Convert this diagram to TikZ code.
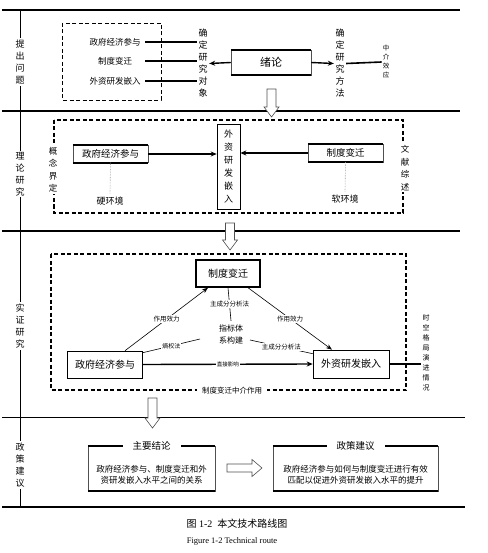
\documentclass[tikz,border=0pt]{standalone}
\usepackage{fontspec}
\setmainfont{Liberation Serif}
\newfontfamily\cjk{Noto Sans CJK SC}
\usetikzlibrary{arrows.meta, positioning, calc}
\definecolor{edgeGray}{HTML}{505050}
\definecolor{dotGray}{HTML}{8C8C8C}
\tikzset{
  vlabel/.style={font=\cjk\fontsize{9}{12}\selectfont, align=center, fill=white, inner sep=1.5pt},
  vsmall/.style={font=\cjk\fontsize{6.5}{9}\selectfont, align=center, inner sep=1pt},
  item/.style={font=\cjk\fontsize{8.5}{10}\selectfont, minimum width=60pt, inner sep=1pt},
  tbbox/.style={draw=edgeGray, line width=0.5pt, fill=white,
    append after command={
      (\tikzlastnode.north west) edge[line width=1.6pt, draw=black] (\tikzlastnode.north east)
      (\tikzlastnode.south west) edge[line width=1.6pt, draw=black] (\tikzlastnode.south east)}},
  plainbox/.style={draw=black, line width=0.6pt, fill=white},
  heavybox/.style={draw=black, line width=1.4pt, fill=white},
  tag/.style={font=\cjk\fontsize{6.5}{8}\selectfont, fill=white, inner sep=1pt},
  dashbox/.style={dash pattern=on 4pt off 2.5pt, line width=1.1pt},
  dotline/.style={dotGray, densely dotted, line width=0.6pt},
  bar/.style={line width=1.6pt},
  arrow/.style={-{Stealth[length=6pt, width=5pt]}, line width=1.4pt},
  thinarrow/.style={-{Stealth[length=6pt, width=4.5pt]}, line width=0.6pt},
  hollow/.style={draw=edgeGray, line width=0.6pt, fill=white},
}
\begin{document}
\begin{tikzpicture}[x=1pt, y=-1pt]
\useasboundingbox (0,0) rectangle (487,553);
% stage rules
\foreach \y/\w/\r in {10/1.8/460, 111/1.8/460, 231/1.8/460, 417/0.9/465, 507/1.4/465}
  \draw[line width=\w pt] (2,\y) -- (\r,\y);
\draw[line width=0.6pt] (20,10) -- (20,507);
\node (st1) [vlabel] at (20,62) {提\\出\\问\\题};
\node (st2) [vlabel] at (20,174) {理\\论\\研\\究};
\node (st3) [vlabel] at (20,326) {实\\证\\研\\究};
\node (st4) [vlabel] at (20,465) {政\\策\\建\\议};

% raising the problem
\draw[dashbox, line width=0.8pt] (62,23) rectangle (161,100);
\node (s1) [item] at (115,42) {政府经济参与};
\node (s2) [item] at (115,61) {制度变迁};
\node (s3) [item] at (115,81) {外资研发嵌入};
\node (obj) [vlabel] at (203,63.5) {确\\定\\研\\究\\对\\象};
\node (intro) [tbbox, minimum width=80pt, minimum height=25pt,
  font=\cjk\fontsize{11}{13}\selectfont] at (271,62.5) {绪论};
\node (meth) [vlabel] at (340,63.5) {确\\定\\研\\究\\方\\法};
\node (med) [vsmall] at (386,62) {中\\介\\效\\应};
\foreach \s in {s1,s2,s3}
  \draw[bar] (\s.east) -- (\s.east -| obj.west);
\draw[arrow] (intro.west) -- (obj.east);
\draw[arrow] (intro.east) -- (meth.west);
\draw[bar] (meth.east) -- (med.west);

% theory
\draw[dashbox] (54,120) rectangle (403,213);
\node (def) [vlabel, font=\cjk\fontsize{8.5}{12.5}\selectfont] at (53,170) {概\\念\\界\\定};
\node (lit) [vlabel, font=\cjk\fontsize{8.5}{12.5}\selectfont] at (405,168) {文\\献\\综\\述};
\node (gov2) [tbbox, minimum width=75pt, minimum height=17pt,
  font=\cjk\fontsize{9.5}{11}\selectfont] at (110.5,154) {政府经济参与};
\node (fdi2) [plainbox, minimum width=23pt, minimum height=85pt, align=center,
  font=\cjk\fontsize{9}{13}\selectfont] at (228.5,166.5) {外\\资\\研\\发\\嵌\\入};
\node (inst2) [tbbox, minimum width=75pt, minimum height=18pt,
  font=\cjk\fontsize{9.5}{11}\selectfont] at (345.5,153) {制度变迁};
\node (hard) [font=\cjk\fontsize{9}{11}\selectfont] at (110,201) {硬环境};
\node (soft) [font=\cjk\fontsize{9}{11}\selectfont] at (345,199) {软环境};
\draw[arrow] (gov2.east) -- (gov2.east -| fdi2.west);
\draw[arrow] (inst2.west) -- (inst2.west -| fdi2.east);
\draw[dotline] (gov2.south) -- (hard.north);
\draw[dotline] (inst2.south) -- (soft.north);

% empirical
\draw[dashbox] (51,254) rectangle (406,390);
\node (chain) [font=\cjk\fontsize{7.5}{9}\selectfont, fill=white, inner xsep=5pt]
  at (232,391) {制度变迁中介作用};
\node (inst3) [heavybox, minimum width=64pt, minimum height=27pt,
  font=\cjk\fontsize{10}{12}\selectfont] at (228,273.5) {制度变迁};
\node (gov3) [plainbox, minimum width=75pt, minimum height=27pt,
  font=\cjk\fontsize{10}{12}\selectfont] at (105,364.5) {政府经济参与};
\node (fdi3) [plainbox, minimum width=76pt, minimum height=28pt,
  font=\cjk\fontsize{10}{12}\selectfont] at (351,364) {外资研发嵌入};
\node (idx) [font=\cjk\fontsize{8}{12}\selectfont, align=center] at (231,334) {指标体\\系构建};
\node (tsp) [vsmall, font=\cjk\fontsize{7}{10}\selectfont] at (426,352.5) {时\\空\\格\\局\\演\\进\\情\\况};
\coordinate (k1) at (200,339);
\coordinate (k2) at (250,340);
\draw[line width=0.6pt] (inst3.south) -- (idx.north) node[tag, midway] {主成分分析法};
\draw[thinarrow] ([xshift=20pt]gov3.north) -- ([xshift=-20pt]inst3.south)
  node[tag, midway] {作用效力};
\draw[thinarrow] ([xshift=20pt]inst3.south) -- ([xshift=-19pt]fdi3.north)
  node[tag, midway] {作用效力};
\draw[line width=0.6pt] ([yshift=-2pt]gov3.north east) -- (k1) node[tag, midway, font=\cjk\fontsize{6}{8}\selectfont] {熵权法};
\draw[line width=0.6pt] (k2) -- ([yshift=-4pt]fdi3.north west) node[tag, midway] {主成分分析法};
\draw[arrow] (gov3.east) -- (fdi3.west)
  node[tag, midway, font=\cjk\fontsize{5.5}{7}\selectfont] {直接影响};
\draw[bar] (fdi3.east) -- (fdi3.east -| tsp.west);

% policy
\node (con) [tbbox, minimum width=127pt, minimum height=45pt] at (151.5,468.5) {};
\node (conhd) [font=\cjk\fontsize{9.5}{11}\selectfont, fill=white, inner xsep=10pt, inner ysep=1pt]
  at (con.north) {主要结论};
\node (contx) [font=\cjk\fontsize{8.5}{11}\selectfont, align=center] at (151.5,474.5)
  {政府经济参与、制度变迁和外\\资研发嵌入水平之间的关系};
\node (pol) [tbbox, minimum width=165pt, minimum height=45pt] at (355.5,468.5) {};
\node (polhd) [font=\cjk\fontsize{9.5}{11}\selectfont, fill=white, inner xsep=10pt, inner ysep=1pt]
  at (pol.north) {政策建议};
\node (poltx) [font=\cjk\fontsize{8.5}{11}\selectfont, align=center] at (355.5,474.5)
  {政府经济参与如何与制度变迁进行有效\\匹配以促进外资研发嵌入水平的提升};

% block arrows
\foreach \x/\ya/\yh/\yb in {271.5/89/107/117, 230/223/240/250, 152.5/398/418/428}
  \draw[hollow] ({\x-4.5},\ya) -- ({\x+4.5},\ya) -- ({\x+4.5},\yh) -- ({\x+7.5},\yh)
    -- (\x,\yb) -- ({\x-7.5},\yh) -- ({\x-4.5},\yh) -- cycle;
\draw[hollow] (227,464) -- (252,464) -- (252,459.5) -- (262,468) -- (252,476.5)
  -- (252,472) -- (227,472) -- cycle;

% caption
\node (cap) [font=\fontsize{10}{12}\selectfont] at (237,524) {{\cjk 图}~1-2~~{\cjk 本文技术路线图}};
\node (capen) [font=\fontsize{8.5}{10}\selectfont] at (232,541) {Figure 1-2 Technical route};
\end{tikzpicture}
\end{document}
